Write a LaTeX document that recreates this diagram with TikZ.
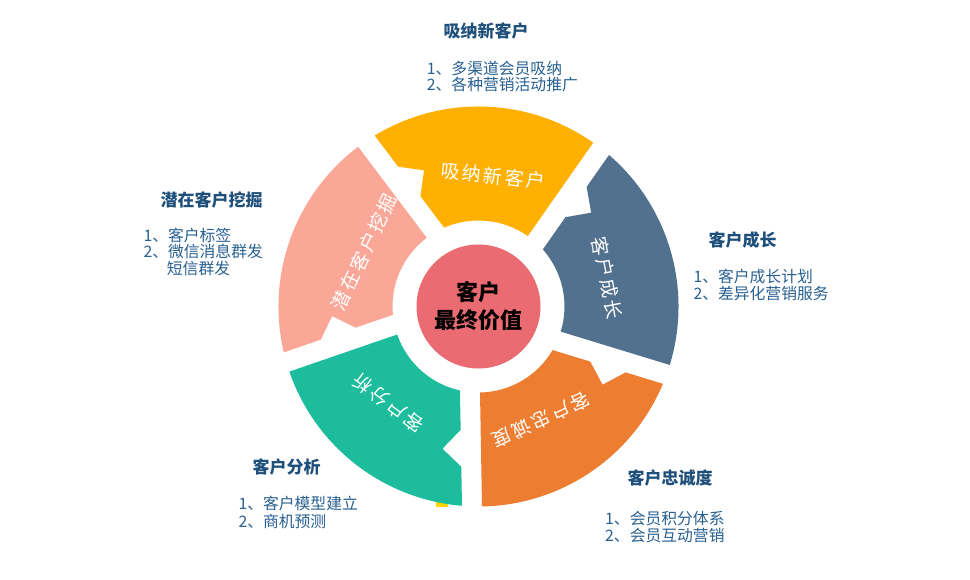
\documentclass[tikz,border=0pt]{standalone}
\usepackage{fontspec}
\setmainfont{Noto Sans CJK SC}
\definecolor{cyellow}{RGB}{255,176,0}
\definecolor{cblue}{RGB}{82,113,143}
\definecolor{corange}{RGB}{237,125,49}
\definecolor{cteal}{RGB}{28,188,156}
\definecolor{cpink}{RGB}{250,167,151}
\definecolor{ccenter}{RGB}{234,107,113}
\definecolor{ctitle}{RGB}{31,80,124}
\definecolor{clist}{RGB}{40,96,146}
\definecolor{cmark}{RGB}{255,214,0}
\tikzset{
  segtext/.style={text=white, font=\fontsize{19}{19}\selectfont\addfontfeature{LetterSpace=13}, inner sep=0pt},
  ttl/.style={text=ctitle, font=\bfseries\fontsize{17}{17}\selectfont, inner sep=0pt},
  lst/.style={text=clist, font=\fontsize{15.8}{15.8}\selectfont, inner sep=0pt, anchor=west},
}
\newcommand{\ringseg}[2]{%
  \begin{scope}[shift={(C)}, rotate=#2]
    \fill[#1] (198.997,-20) arc[start angle=-5.739, end angle=-72, radius=200]
      -- (-72:86) arc[start angle=-72, end angle=-13.45, radius=86]
      -- (123,-20) -- (141.5,-38.5) -- (160,-20) -- cycle;
  \end{scope}}
\begin{document}
\begin{tikzpicture}[x=1pt,y=1pt]
\useasboundingbox (0,0) rectangle (970,-580);
\fill[white] (0,0) rectangle (970,-580);
\coordinate (C) at (478.5,-306.5);
% small mark behind teal segment
\fill[cmark] (436,-494) rectangle (448,-507);
% ring segments
\ringseg{cyellow}{127}
\ringseg{cblue}{55}
\ringseg{corange}{-17}
\ringseg{cteal}{-89}
\ringseg{cpink}{199}
% centre
\fill[ccenter] (C) circle[radius=62];
\node[align=center, font=\bfseries\fontsize{22}{28}\selectfont, text=black, inner sep=0pt] (core) at (C) {客户\\最终价值};
% segment labels
\node[segtext, rotate=-6] (lA) at (493,-176) {吸纳新客户};
\node[segtext, rotate=-79] (lB) at (607,-278) {客户成长};
\node[segtext, rotate=205] (lC) at (541,-420) {客户忠诚度};
\node[segtext, rotate=143] (lD) at (388,-403) {客户分析};
\node[segtext, rotate=65] (lE) at (364,-252) {潜在客户挖掘};
% top block
\node[ttl] (tA) at (486,-31) {吸纳新客户};
\node[lst] (tA1) at (426.7,-68.3) {1、多渠道会员吸纳};
\node[lst] (tA2) at (426.7,-85) {2、各种营销活动推广};
% left block
\node[ttl] (tE) at (211.7,-200) {潜在客户挖掘};
\node[lst] (tE1) at (143.3,-235) {1、客户标签};
\node[lst] (tE2) at (143.3,-251.7) {2、微信消息群发};
\node[lst] (tE3) at (166.7,-268.3) {短信群发};
% right block
\node[ttl] (tB) at (742.5,-240) {客户成长};
\node[lst] (tB1) at (693.3,-276.7) {1、客户成长计划};
\node[lst] (tB2) at (693.3,-293.3) {2、差异化营销服务};
% bottom-left block
\node[ttl] (tD) at (286.7,-466.7) {客户分析};
\node[lst] (tD1) at (238.3,-503.3) {1、客户模型建立};
\node[lst] (tD2) at (238.3,-521.7) {2、商机预测};
% bottom-right block
\node[ttl] (tC) at (670,-478.3) {客户忠诚度};
\node[lst] (tC1) at (605,-518.3) {1、会员积分体系};
\node[lst] (tC2) at (605,-536) {2、会员互动营销};
\end{tikzpicture}
\end{document}
